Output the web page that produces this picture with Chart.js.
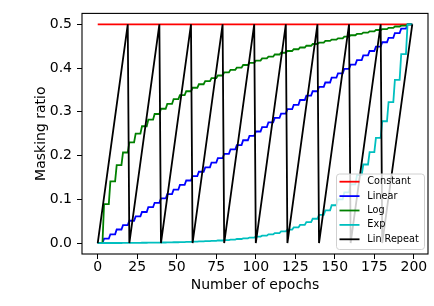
<!DOCTYPE html>
<html>
<head>
<meta charset="utf-8">
<script src="https://cdn.jsdelivr.net/npm/chart.js@4/dist/chart.umd.min.js"></script>
<style>
  html, body { margin: 0; padding: 0; background: #fff; }
  #grafico { display: block; }
</style>
</head>
<body>
<canvas id="grafico" width="434" height="306"></canvas>
<script>
// ---- dados (cada valor vale para 4 épocas) ----
const epocasPorEstagio = 4;
const totalEpocas = 200;

const xTicks = [0, 25, 50, 75, 100, 125, 150, 175, 200];
const yTicks = [0.0, 0.1, 0.2, 0.3, 0.4, 0.5];

const nomesSeries = ['Constant', 'Linear', 'Log', 'Exp', 'Lin Repeat'];
const coresSeries = ['#ff0000', '#0000ff', '#008000', '#00bfbf', '#000000'];

const constanteEpocas = [0, 199];
const constanteValores = [0.5, 0.5];

const linearValores = [
  0.000, 0.010, 0.020, 0.031, 0.041, 0.051, 0.061, 0.071, 0.082, 0.092,
  0.102, 0.112, 0.122, 0.133, 0.143, 0.153, 0.163, 0.173, 0.184, 0.194,
  0.204, 0.214, 0.224, 0.235, 0.245, 0.255, 0.265, 0.276, 0.286, 0.296,
  0.306, 0.316, 0.327, 0.337, 0.347, 0.357, 0.367, 0.378, 0.388, 0.398,
  0.408, 0.418, 0.429, 0.439, 0.449, 0.459, 0.469, 0.480, 0.490, 0.500
];

const logValores = [
  0.000, 0.089, 0.141, 0.178, 0.207, 0.230, 0.250, 0.267, 0.282, 0.295,
  0.307, 0.318, 0.329, 0.338, 0.347, 0.355, 0.363, 0.370, 0.377, 0.383,
  0.390, 0.396, 0.401, 0.407, 0.412, 0.417, 0.422, 0.426, 0.431, 0.435,
  0.439, 0.443, 0.447, 0.451, 0.455, 0.458, 0.462, 0.465, 0.468, 0.472,
  0.475, 0.478, 0.481, 0.484, 0.487, 0.489, 0.492, 0.495, 0.497, 0.500
];

const expValores = [
  0.0000, 0.0001, 0.0001, 0.0002, 0.0003, 0.0004, 0.0005, 0.0007, 0.0009, 0.0011,
  0.0013, 0.0016, 0.0019, 0.0022, 0.0026, 0.0031, 0.0037, 0.0043, 0.0050, 0.0059,
  0.0069, 0.0080, 0.0093, 0.0108, 0.0126, 0.0147, 0.0170, 0.0198, 0.0229, 0.0266,
  0.0308, 0.0357, 0.0414, 0.0480, 0.0556, 0.0644, 0.0746, 0.0864, 0.1000, 0.1158,
  0.1340, 0.1552, 0.1796, 0.2079, 0.2406, 0.2785, 0.3224, 0.3731, 0.4319, 0.5000
];

const linRepeatEpocas = [0, 19, 20, 39, 40, 59, 60, 79, 80, 99, 100, 119, 120, 139, 140, 159, 160, 179, 180, 199];
const linRepeatValores = [0, 0.5, 0, 0.5, 0, 0.5, 0, 0.5, 0, 0.5, 0, 0.5, 0, 0.5, 0, 0.5, 0, 0.5, 0, 0.5];

// ---- funções auxiliares ----
function estagiosParaPontos(valores) {
  const pontos = [];
  for (let e = 0; e < totalEpocas; e++) {
    pontos.push({ x: e, y: valores[Math.floor(e / epocasPorEstagio)] });
  }
  return pontos;
}

function paresParaPontos(xs, ys) {
  return xs.map((x, i) => ({ x: x, y: ys[i] }));
}

const dadosSeries = [
  paresParaPontos(constanteEpocas, constanteValores),
  estagiosParaPontos(linearValores),
  estagiosParaPontos(logValores),
  estagiosParaPontos(expValores),
  paresParaPontos(linRepeatEpocas, linRepeatValores)
];

const fonte = 'DejaVu Sans';

// moldura completa do eixo (estilo matplotlib)
const pluginMoldura = {
  id: 'moldura',
  afterDatasetsDraw(chart) {
    const { ctx, chartArea: a } = chart;
    ctx.save();
    ctx.strokeStyle = '#000';
    ctx.lineWidth = 1.1;
    ctx.strokeRect(a.left, a.top, a.right - a.left, a.bottom - a.top);
    ctx.restore();
  }
};

// legenda dentro da área do gráfico, canto inferior direito
const pluginLegenda = {
  id: 'legendaInterna',
  afterDraw(chart) {
    const { ctx } = chart;
    const caixa = { x: 336, y: 173.5, w: 88, h: 75.5 };
    ctx.save();
    ctx.beginPath();
    ctx.roundRect(caixa.x + 0.5, caixa.y + 0.5, caixa.w, caixa.h, 3);
    ctx.fillStyle = 'rgba(255,255,255,0.8)';
    ctx.fill();
    ctx.strokeStyle = '#d0d0d0';
    ctx.lineWidth = 1;
    ctx.stroke();

    ctx.font = '9.7px "' + fonte + '"';
    ctx.textBaseline = 'middle';
    ctx.textAlign = 'left';
    chart.data.datasets.forEach((ds, i) => {
      const y = 181.7 + i * 14.4;
      ctx.beginPath();
      ctx.moveTo(339.5, y);
      ctx.lineTo(359.5, y);
      ctx.strokeStyle = ds.borderColor;
      ctx.lineWidth = 1.8;
      ctx.stroke();
      ctx.fillStyle = '#000';
      ctx.fillText(ds.label, 367.3, y);
    });
    ctx.restore();
  }
};

new Chart(document.getElementById('grafico'), {
  type: 'line',
  data: {
    datasets: nomesSeries.map((nome, i) => ({
      label: nome,
      data: dadosSeries[i],
      borderColor: coresSeries[i],
      backgroundColor: coresSeries[i],
      borderWidth: 1.8,
      pointRadius: 0,
      tension: 0,
      fill: false,
      order: nomesSeries.length - 1 - i
    }))
  },
  options: {
    responsive: false,
    devicePixelRatio: 1,
    animation: false,
    events: [],
    layout: { padding: { left: 0, right: 6, top: 2, bottom: 0 } },
    plugins: {
      legend: { display: false },
      tooltip: { enabled: false }
    },
    scales: {
      x: {
        type: 'linear',
        min: -9.95,
        max: 208.95,
        afterBuildTicks: (s) => { s.ticks = xTicks.map(v => ({ value: v })); },
        afterFit: (s) => { s.height = 52; },
        grid: { drawOnChartArea: false, drawTicks: true, tickLength: 5, color: '#000', lineWidth: 1 },
        border: { display: false },
        ticks: {
          color: '#000',
          padding: 0,
          maxRotation: 0,
          font: { family: fonte, size: 14 },
          callback: (v) => String(v)
        },
        title: {
          display: true,
          text: 'Number of epochs',
          color: '#000',
          font: { family: fonte, size: 14 },
          padding: { top: 0, bottom: 12.6 }
        }
      },
      y: {
        type: 'linear',
        min: -0.025,
        max: 0.525,
        afterBuildTicks: (s) => { s.ticks = yTicks.map(v => ({ value: v })); },
        afterFit: (s) => { s.width = 82; },
        grid: { drawOnChartArea: false, drawTicks: true, tickLength: 5, color: '#000', lineWidth: 1 },
        border: { display: false },
        ticks: {
          color: '#000',
          padding: 5,
          font: { family: fonte, size: 14 },
          callback: (v) => v.toFixed(1)
        },
        title: {
          display: true,
          text: 'Masking ratio',
          color: '#000',
          font: { family: fonte, size: 14 },
          padding: { top: 32.6, bottom: 0 }
        }
      }
    }
  },
  plugins: [pluginMoldura, pluginLegenda]
});
</script>
</body>
</html>
